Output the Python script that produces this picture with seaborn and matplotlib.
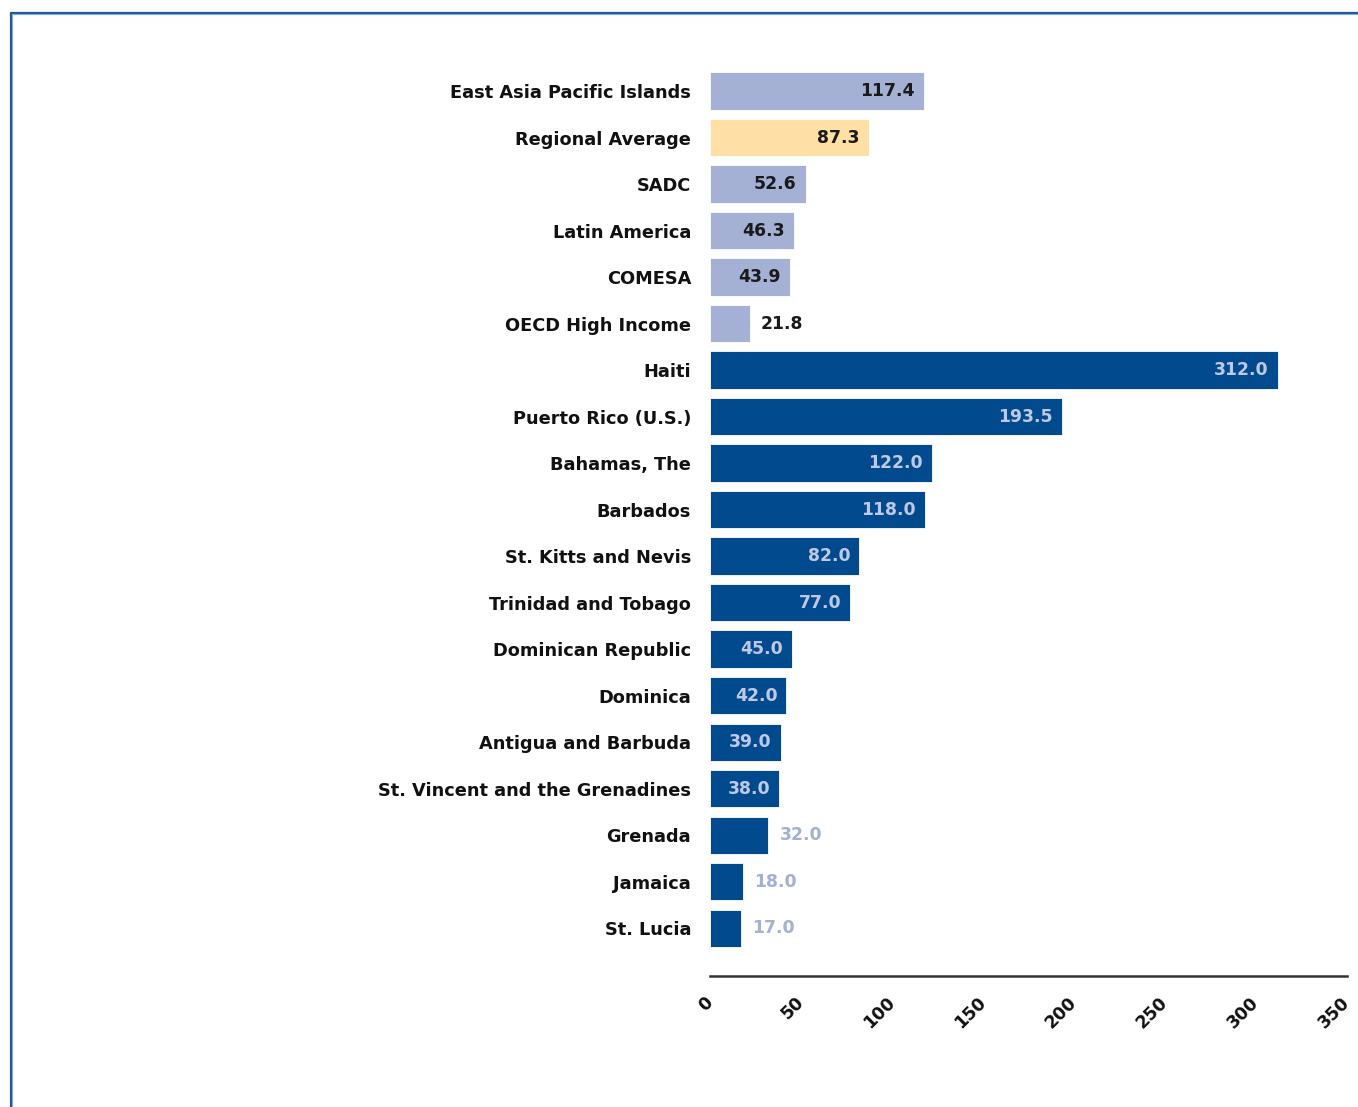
import seaborn as sns
import matplotlib.pyplot as plt
from matplotlib.lines import Line2D

sns.set_style("white")
plt.rcParams['font.family'] = ['DejaVu Sans']

# Data for the chart (top to bottom)
regions = ["East Asia Pacific Islands", "Regional Average", "SADC", "Latin America",
           "COMESA", "OECD High Income", "Haiti", "Puerto Rico (U.S.)", "Bahamas, The",
           "Barbados", "St. Kitts and Nevis", "Trinidad and Tobago", "Dominican Republic",
           "Dominica", "Antigua and Barbuda", "St. Vincent and the Grenadines",
           "Grenada", "Jamaica", "St. Lucia"]
values = [117.4, 87.3, 52.6, 46.3, 43.9, 21.8, 312.0, 193.5, 122.0, 118.0,
          82.0, 77.0, 45.0, 42.0, 39.0, 38.0, 32.0, 18.0, 17.0]
groups = ["benchmark", "average", "benchmark", "benchmark", "benchmark", "benchmark"] + ["country"] * 13
x_ticks = [0, 50, 100, 150, 200, 250, 300, 350]

bar_colors = {"benchmark": "#A4B0D4", "average": "#FEDFA6", "country": "#024A8E"}
inside_text = {"benchmark": "#1A1A1A", "average": "#1A1A1A", "country": "#BFC9E6"}
outside_text = {"benchmark": "#1A1A1A", "average": "#1A1A1A", "country": "#A4B0D4"}

fig = plt.figure(figsize=(13.58, 11.07), dpi=100)
ax = fig.add_axes([0.5228, 0.1183, 0.4691, 0.8205])

palette = {r: bar_colors[g] for r, g in zip(regions, groups)}
sns.barplot(x=values, y=regions, hue=regions, palette=palette, legend=False,
            width=0.8, saturation=1, edgecolor="white", linewidth=0.6, ax=ax)

ax.set_xlim(0, 350)
ax.set_ylim(len(regions) - 1 + 1.03, -0.5)
ax.set_xticks(x_ticks)
ax.set_xticklabels([str(t) for t in x_ticks], rotation=45, ha="right", va="center",
                   rotation_mode="anchor", fontsize=12.5, fontweight="bold", color="#111111")
ax.tick_params(axis="x", length=0, pad=17)
ax.tick_params(axis="y", length=0, pad=13.5, labelsize=12.8, labelcolor="#111111")
for lbl in ax.get_yticklabels():
    lbl.set_fontweight("bold")
ax.set_xlabel("")
ax.set_ylabel("")

for s in ["top", "right", "left"]:
    ax.spines[s].set_visible(False)
ax.spines["bottom"].set_color("#333333")
ax.spines["bottom"].set_linewidth(1.8)

# value labels
for i, (v, g) in enumerate(zip(values, groups)):
    if v >= 35:
        ax.annotate(f"{v:.1f}", (v, i), xytext=(-6.5, 0), textcoords="offset points",
                    ha="right", va="center", fontsize=12.4, fontweight="bold",
                    color=inside_text[g])
    else:
        ax.annotate(f"{v:.1f}", (v, i), xytext=(8, 0), textcoords="offset points",
                    ha="left", va="center", fontsize=12.4, fontweight="bold",
                    color=outside_text[g])

# outer frame (top and left edges)
fig.add_artist(Line2D([11 / 1358, 11 / 1358], [0, 1 - 13 / 1107], color="#1E5A9C",
                      linewidth=1.6, transform=fig.transFigure))
fig.add_artist(Line2D([11 / 1358, 1], [1 - 13 / 1107, 1 - 13 / 1107], color="#1E5A9C",
                      linewidth=1.6, transform=fig.transFigure))
fig.add_artist(Line2D([12.2 / 1358, 12.2 / 1358], [0, 1 - 14.2 / 1107], color="#7FA8D6",
                      linewidth=0.8, transform=fig.transFigure))
fig.add_artist(Line2D([12.2 / 1358, 1], [1 - 14.2 / 1107, 1 - 14.2 / 1107], color="#7FA8D6",
                      linewidth=0.8, transform=fig.transFigure))

plt.savefig("out.png", dpi=100)
